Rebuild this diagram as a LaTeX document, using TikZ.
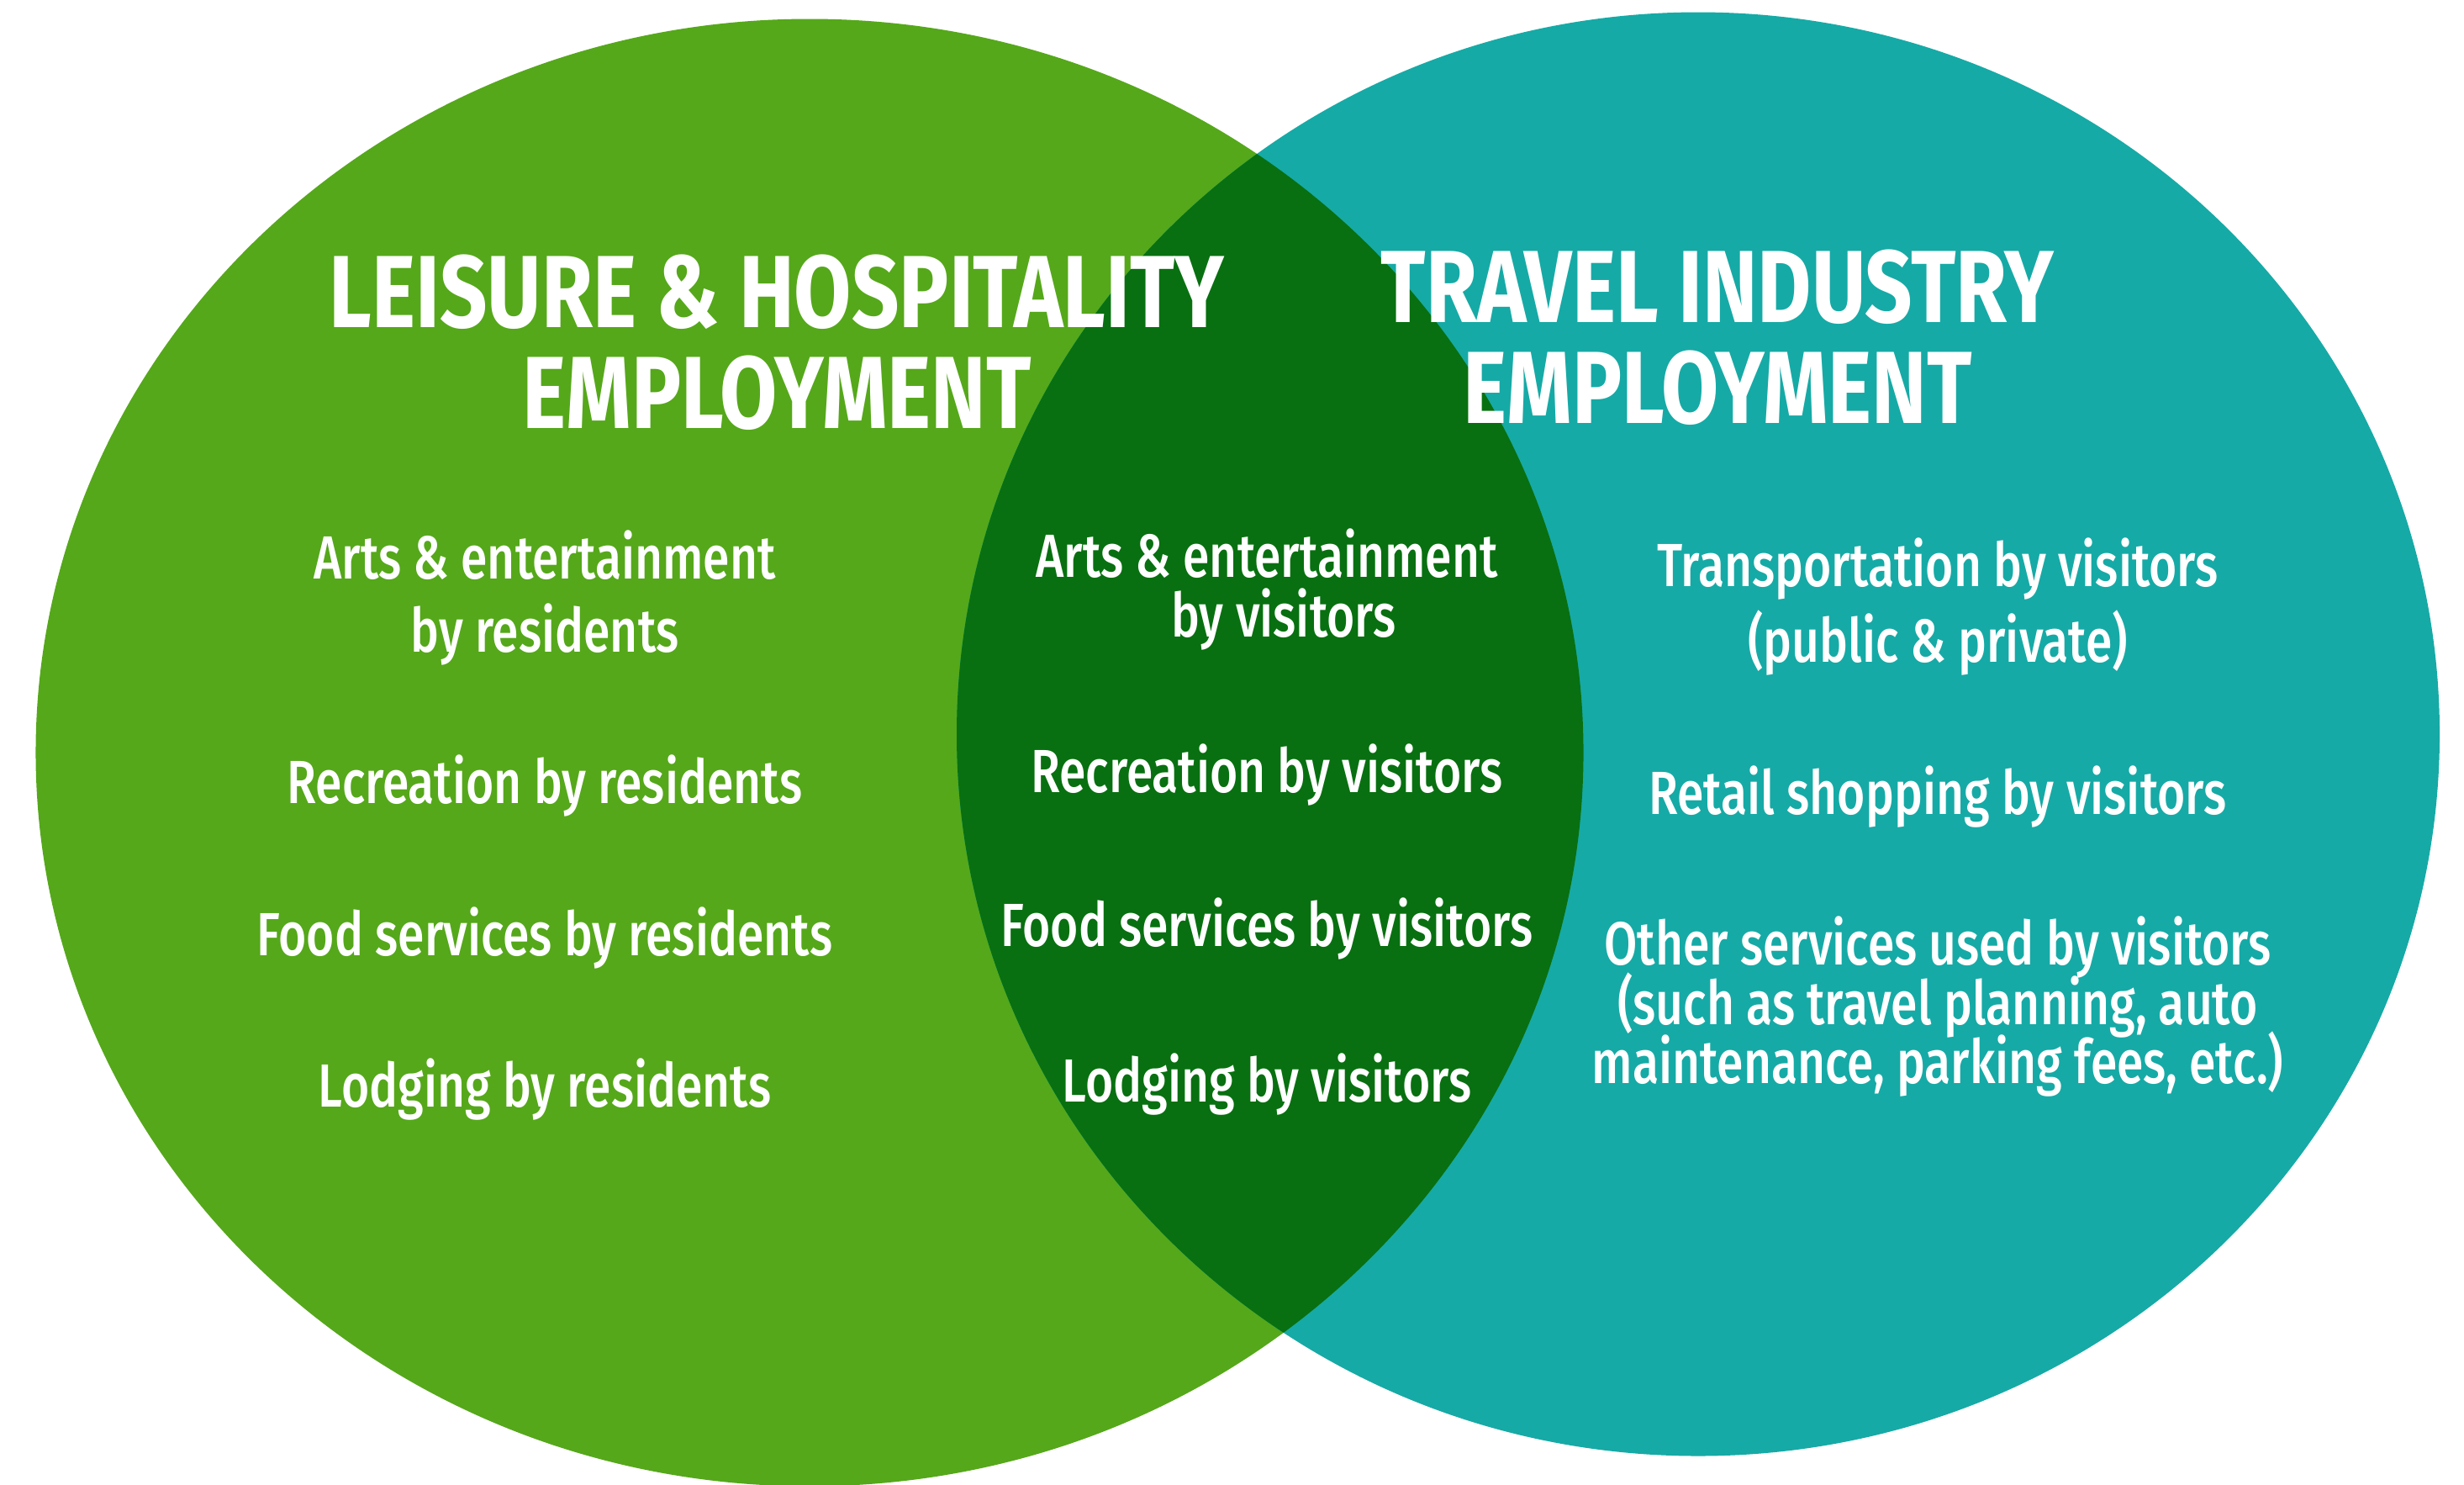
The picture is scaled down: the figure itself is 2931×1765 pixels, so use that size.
\documentclass[tikz,border=0pt]{standalone}
\usepackage{fontspec}
\newfontfamily\headfont[FakeStretch=0.81]{Fira Sans Bold}
\newfontfamily\bodyfont[FakeStretch=0.787]{Fira Sans Medium}
\definecolor{leisuregreen}{HTML}{55A81A}
\definecolor{travelteal}{HTML}{16AAA6}
\definecolor{overlapgreen}{HTML}{087010}
\tikzset{
  heading/.style={anchor=base, text=white, inner sep=0pt, font=\headfont\fontsize{34.7}{40}\selectfont},
  item/.style={anchor=base, text=white, inner sep=0pt, font=\bodyfont\fontsize{20.6}{24}\selectfont},
}
\begin{document}
\begin{tikzpicture}[x=0.01cm, y=-0.01cm]
  \clip (0,0) rectangle (2931,1765);
  \fill[white] (0,0) rectangle (2931,1765);
  % the two sets
  \fill[leisuregreen] (963,895) ellipse [x radius=9.20cm, y radius=8.72cm];
  \fill[travelteal] (2020,873) ellipse [x radius=8.815cm, y radius=8.58cm];
  % their intersection
  \begin{scope}
    \clip (963,895) ellipse [x radius=9.20cm, y radius=8.72cm];
    \fill[overlapgreen] (2020,873) ellipse [x radius=8.815cm, y radius=8.58cm];
  \end{scope}
  % headings
  \node[heading] (lh1) at (924,389) {LEISURE \& HOSPITALITY};
  \node[heading] (lh2) at (924,509) {EMPLOYMENT};
  \node[heading] (th1) at (2043,383) {TRAVEL INDUSTRY};
  \node[heading] (th2) at (2043,503) {EMPLOYMENT};
  % leisure only
  \node[item] (l1a) at (648,688) {Arts \& entertainment};
  \node[item] (l1b) at (648,775) {by residents};
  \node[item] (l2) at (648,955) {Recreation by residents};
  \node[item] (l3) at (648,1136) {Food services by residents};
  \node[item] (l4) at (648,1316) {Lodging by residents};
  % shared
  \node[item] (m1a) at (1507,686) {Arts \& entertainment};
  \node[item] (m1b) at (1527,757) {by visitors};
  \node[item] (m2) at (1507,942) {Recreation by visitors};
  \node[item] (m3) at (1507,1125) {Food services by visitors};
  \node[item] (m4) at (1507,1310) {Lodging by visitors};
  % travel only
  \node[item] (r1a) at (2305,697) {Transportation by visitors};
  \node[item] (r1b) at (2305,787) {(public \& private)};
  \node[item] (r2) at (2305,968) {Retail shopping by visitors};
  \node[item] (r3a) at (2305,1147) {Other services used by visitors};
  \node[item] (r3b) at (2305,1218) {(such as travel planning, auto};
  \node[item] (r3c) at (2305,1288) {maintenance, parking fees, etc.)};
\end{tikzpicture}
\end{document}
